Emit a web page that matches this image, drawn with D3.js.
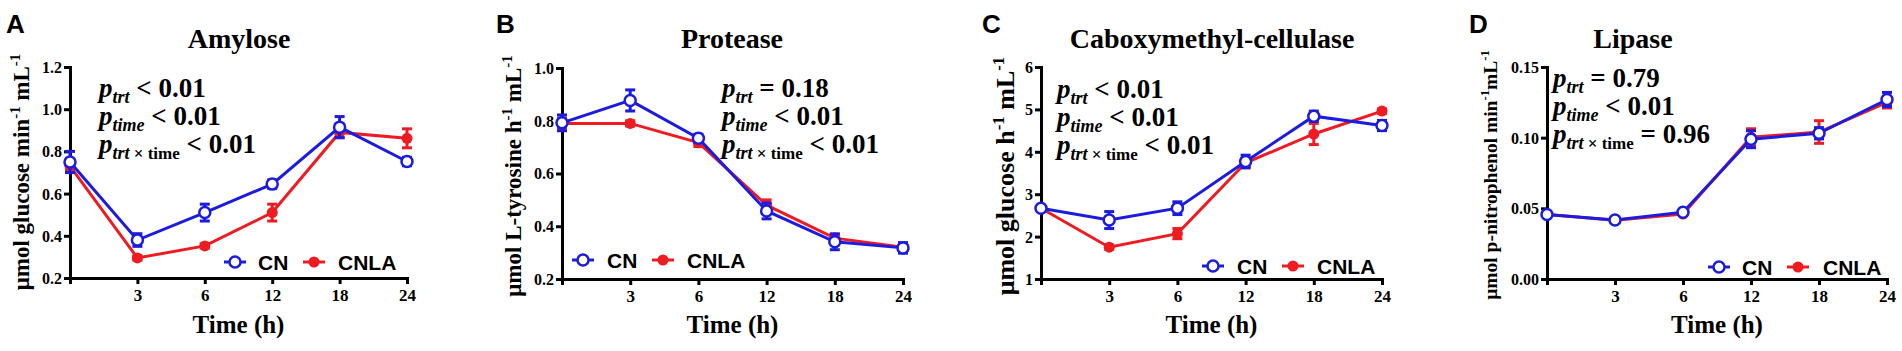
<!DOCTYPE html>
<html>
<head>
<meta charset="utf-8">
<script src="https://cdn.jsdelivr.net/npm/d3@7"></script>
<style>
body { margin: 0; background: #fff; }
svg text { font-family: "Liberation Serif", "Times New Roman", serif; font-weight: bold; fill: #000; }
svg text.sans { font-family: "Liberation Sans", Arial, sans-serif; }
</style>
</head>
<body>
<svg width="1902" height="351"></svg>
<script>
// Data
let times = ['0', '3', '6', '12', '18', '24']
let timeLabels = ['', '3', '6', '12', '18', '24']
let seriesNames = ['CN', 'CNLA']

let amyloseCN = [0.75, 0.38, 0.51, 0.645, 0.915, 0.752]
let amyloseCNErr = [0.05, 0.03, 0.04, 0.02, 0.05, 0.02]
let amyloseCNLA = [0.73, 0.295, 0.352, 0.51, 0.89, 0.862]
let amyloseCNLAErr = [0.02, 0.01, 0.01, 0.04, 0.025, 0.045]

let proteaseCN = [0.792, 0.877, 0.734, 0.458, 0.341, 0.318]
let proteaseCNErr = [0.03, 0.04, 0.015, 0.03, 0.03, 0.02]
let proteaseCNLA = [0.79, 0.79, 0.717, 0.48, 0.355, 0.32]
let proteaseCNLAErr = [0.02, 0.01, 0.015, 0.02, 0.015, 0.01]

let cmcCN = [2.67, 2.39, 2.67, 3.77, 4.84, 4.62]
let cmcCNErr = [0.05, 0.2, 0.15, 0.15, 0.12, 0.12]
let cmcCNLA = [2.67, 1.75, 2.07, 3.74, 4.42, 4.96]
let cmcCNLAErr = [0.05, 0.05, 0.12, 0.1, 0.25, 0.05]

let lipaseCN = [0.0457, 0.0417, 0.0473, 0.0989, 0.1031, 0.127]
let lipaseCNErr = [0.001, 0.001, 0.001, 0.006, 0.004, 0.005]
let lipaseCNLA = [0.0457, 0.0415, 0.046, 0.1003, 0.104, 0.125]
let lipaseCNLAErr = [0.001, 0.001, 0.001, 0.006, 0.008, 0.004]

let amyloseTicks = [0.2, 0.4, 0.6, 0.8, 1.0, 1.2]
let proteaseTicks = [0.2, 0.4, 0.6, 0.8, 1.0]
let cmcTicks = [1, 2, 3, 4, 5, 6]
let lipaseTicks = [0.00, 0.05, 0.10, 0.15]

let amyloseP = ['< 0.01', '< 0.01', '< 0.01']
let proteaseP = ['= 0.18', '< 0.01', '< 0.01']
let cmcP = ['< 0.01', '< 0.01', '< 0.01']
let lipaseP = ['= 0.79', '< 0.01', '= 0.96']

let blue = '#1c1ce0'
let red = '#ee1c22'

let svg = d3.select('svg')

let panels = [
    { letter: 'A', title: 'Amylose', cn: amyloseCN, cnErr: amyloseCNErr, cnla: amyloseCNLA, cnlaErr: amyloseCNLAErr,
      ticks: amyloseTicks, fmt: '.1f', p: amyloseP,
      ylabel: ['μmol glucose min', '-1', ' mL', '-1'], ylabelSize: 23,
      x0: 70, x1: 407, yt: 67, yb: 278, letterX: 6, titleX: 239, ylabX: 29, ylabY: 172,
      pX: 99, pY: 97, legX: 224, legY: 262, legText2: 338, legText1: 258, legLine2: 303 },
    { letter: 'B', title: 'Protease', cn: proteaseCN, cnErr: proteaseCNErr, cnla: proteaseCNLA, cnlaErr: proteaseCNLAErr,
      ticks: proteaseTicks, fmt: '.1f', p: proteaseP,
      ylabel: ['μmol L-tyrosine h', '-1', ' mL', '-1'], ylabelSize: 23,
      x0: 562, x1: 903, yt: 68, yb: 279, letterX: 496, titleX: 732, ylabX: 521, ylabY: 176,
      pX: 722, pY: 97, legX: 572, legY: 260, legText1: 607, legLine2: 652, legText2: 687 },
    { letter: 'C', title: 'Caboxymethyl-cellulase', cn: cmcCN, cnErr: cmcCNErr, cnla: cmcCNLA, cnlaErr: cmcCNLAErr,
      ticks: cmcTicks, fmt: 'd', p: cmcP,
      ylabel: ['μmol glucose h', '-1', ' mL', '-1'], ylabelSize: 26,
      x0: 1041, x1: 1382, yt: 67, yb: 279, letterX: 982, titleX: 1212, ylabX: 1014, ylabY: 176,
      pX: 1057, pY: 98, legX: 1202, legY: 266, legText1: 1237, legLine2: 1282, legText2: 1317 },
    { letter: 'D', title: 'Lipase', cn: lipaseCN, cnErr: lipaseCNErr, cnla: lipaseCNLA, cnlaErr: lipaseCNLAErr,
      ticks: lipaseTicks, fmt: '.2f', p: lipaseP,
      ylabel: ['μmol p-nitrophenol min', '-1', 'mL', '-1'], ylabelSize: 19.5,
      x0: 1547, x1: 1887, yt: 67, yb: 279, letterX: 1469, titleX: 1633, ylabX: 1497, ylabY: 175,
      pX: 1553, pY: 87, legX: 1708, legY: 267, legText1: 1742, legLine2: 1787, legText2: 1823 }
]

panels.forEach(drawPanel)

function drawPanel(p) {
    let g = svg.append('g')

    // Scales
    let x = d3.scalePoint().domain(times).range([p.x0, p.x1])
    let y = d3.scaleLinear().domain([p.ticks[0], p.ticks[p.ticks.length - 1]]).range([p.yb, p.yt])

    // Axes
    let yAxis = d3.axisLeft(y).tickValues(p.ticks).tickFormat(d3.format(p.fmt))
        .tickSize(6).tickSizeOuter(0).tickPadding(2)
    let xAxis = d3.axisBottom(x).tickFormat((d, i) => timeLabels[i])
        .tickSize(6).tickSizeOuter(0)

    let ya = g.append('g').attr('transform', `translate(${p.x0},0)`).call(yAxis)
    ya.selectAll('text').attr('font-size', 16).attr('font-family', null).attr('dy', '0.34em')

    let xa = g.append('g').attr('transform', `translate(0,${p.yb})`).call(xAxis)
    xa.selectAll('text').attr('font-size', 17).attr('font-family', null).attr('y', 23).attr('dy', 0)

    g.selectAll('.domain').attr('stroke-width', 3).attr('stroke-linecap', 'square')
    g.selectAll('.tick line').attr('stroke-width', 3)

    // Series, red under blue
    let series = [
        { v: p.cnla, e: p.cnlaErr, color: red, hollow: false },
        { v: p.cn, e: p.cnErr, color: blue, hollow: true }
    ]
    let line = d3.line().x((d, i) => x(times[i])).y(d => y(d))

    series.forEach(s => {
        g.append('path')
            .datum(s.v)
            .attr('d', line)
            .attr('fill', 'none')
            .attr('stroke', s.color)
            .attr('stroke-width', 3)

        let eb = g.append('g').attr('stroke', s.color).attr('stroke-width', 3)
        s.v.forEach((v, i) => {
            let cx = x(times[i])
            eb.append('line').attr('x1', cx).attr('x2', cx)
                .attr('y1', y(v - s.e[i])).attr('y2', y(v + s.e[i]))
            eb.append('line').attr('x1', cx - 5).attr('x2', cx + 5)
                .attr('y1', y(v - s.e[i])).attr('y2', y(v - s.e[i]))
            eb.append('line').attr('x1', cx - 5).attr('x2', cx + 5)
                .attr('y1', y(v + s.e[i])).attr('y2', y(v + s.e[i]))
        })

        g.selectAll(null)
            .data(s.v)
            .enter()
            .append('circle')
            .attr('cx', (d, i) => x(times[i]))
            .attr('cy', d => y(d))
            .attr('r', s.hollow ? 5.5 : 5.5)
            .attr('fill', s.hollow ? '#fff' : s.color)
            .attr('stroke', s.hollow ? s.color : 'none')
            .attr('stroke-width', 2.5)
    })

    // Panel letter
    g.append('text').attr('class', 'sans')
        .attr('x', p.letterX).attr('y', 33)
        .attr('font-size', 26)
        .text(p.letter)

    // Title
    g.append('text')
        .attr('x', p.titleX).attr('y', 48)
        .attr('text-anchor', 'middle')
        .attr('font-size', 28)
        .text(p.title)

    // X label
    g.append('text')
        .attr('x', (p.x0 + p.x1) / 2).attr('y', 333)
        .attr('text-anchor', 'middle')
        .attr('font-size', 25)
        .text('Time (h)')

    // Y label
    let yl = g.append('text')
        .attr('transform', `translate(${p.ylabX},${p.ylabY}) rotate(-90)`)
        .attr('text-anchor', 'middle')
        .attr('font-size', p.ylabelSize)
    p.ylabel.forEach((t, i) => {
        let sup = i % 2 == 1
        yl.append('tspan')
            .attr('font-size', sup ? p.ylabelSize * 0.65 : p.ylabelSize)
            .attr('dy', sup ? -p.ylabelSize * 0.4 : (i > 0 ? p.ylabelSize * 0.4 : 0))
            .text(t)
    })

    // p-values
    let subs = [['trt'], ['time'], ['trt', ' × time']]
    p.p.forEach((val, i) => {
        let t = g.append('text')
            .attr('x', p.pX).attr('y', p.pY + i * 28)
            .attr('font-size', 27)
        t.append('tspan').attr('font-style', 'italic').text('p')
        t.append('tspan').attr('font-style', 'italic').attr('font-size', 18).attr('dy', 6).text(subs[i][0])
        if (subs[i][1]) t.append('tspan').attr('font-size', 17).text(subs[i][1])
        t.append('tspan').attr('dy', -6).text(' ' + val)
    })

    // Legend
    let leg = [
        { name: seriesNames[0], lx: p.legX, tx: p.legText1, color: blue, hollow: true },
        { name: seriesNames[1], lx: p.legLine2, tx: p.legText2, color: red, hollow: false }
    ]
    leg.forEach(l => {
        g.append('line')
            .attr('x1', l.lx).attr('x2', l.lx + 22)
            .attr('y1', p.legY).attr('y2', p.legY)
            .attr('stroke', l.color).attr('stroke-width', 3)
        g.append('circle')
            .attr('cx', l.lx + 11).attr('cy', p.legY).attr('r', 5.5)
            .attr('fill', l.hollow ? '#fff' : l.color)
            .attr('stroke', l.hollow ? l.color : 'none')
            .attr('stroke-width', 2.5)
        g.append('text').attr('class', 'sans')
            .attr('x', l.tx).attr('y', p.legY).attr('dy', '0.36em')
            .attr('font-size', 21)
            .text(l.name)
    })
}
</script>
</body>
</html>
